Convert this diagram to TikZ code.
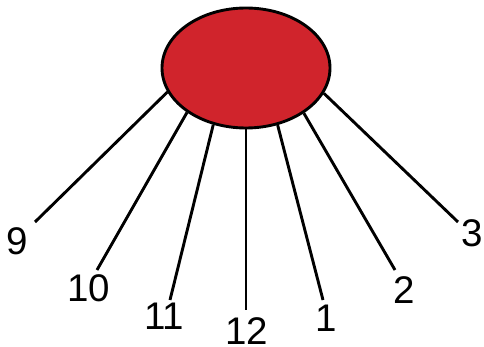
\documentclass[tikz,border=0pt]{standalone}
\usepackage{fontspec}
\setmainfont{Liberation Sans}
\usetikzlibrary{shapes.geometric}
\definecolor{blobred}{RGB}{208,36,44}
\begin{document}
\begin{tikzpicture}[x=1pt, y=-1pt, line width=2.9pt]
    % hub and its numbered legs
    \useasboundingbox (0,0) rectangle (484,347);
    \node[draw,ellipse,fill=blobred,minimum width=168pt,minimum height=120pt,inner sep=0pt] (hub) at (246,68) {};

    \node[font=\fontsize{38.5}{40}\selectfont] (L9) at (17,241) {9};
    \node[font=\fontsize{38.5}{40}\selectfont] (L10) at (89,288) {10};
    \node[font=\fontsize{38.5}{40}\selectfont] (L11) at (164,316) {11};
    \node[font=\fontsize{38.5}{40}\selectfont] (L12) at (247,331) {12};
    \node[font=\fontsize{38.5}{40}\selectfont] (L1) at (326,318) {1};
    \node[font=\fontsize{38.5}{40}\selectfont] (L2) at (404,290) {2};
    \node[font=\fontsize{38.5}{40}\selectfont] (L3) at (472,233) {3};

    \coordinate (E9) at (35,222); \coordinate (E10) at (97,270); \coordinate (E11) at (170,300);
    \coordinate (E12) at (246,310); \coordinate (E1) at (323,300); \coordinate (E2) at (395,270);
    \coordinate (E3) at (458,222);

    \draw (hub.197.5)--(E9); \draw (hub.217.7)--(E10); \draw (hub.240.5)--(E11);
    \draw (hub.south)--(E12); \draw (hub.299.5)--(E1); \draw (hub.322.3)--(E2);
    \draw (hub.342.5)--(E3);
\end{tikzpicture}
\end{document}
